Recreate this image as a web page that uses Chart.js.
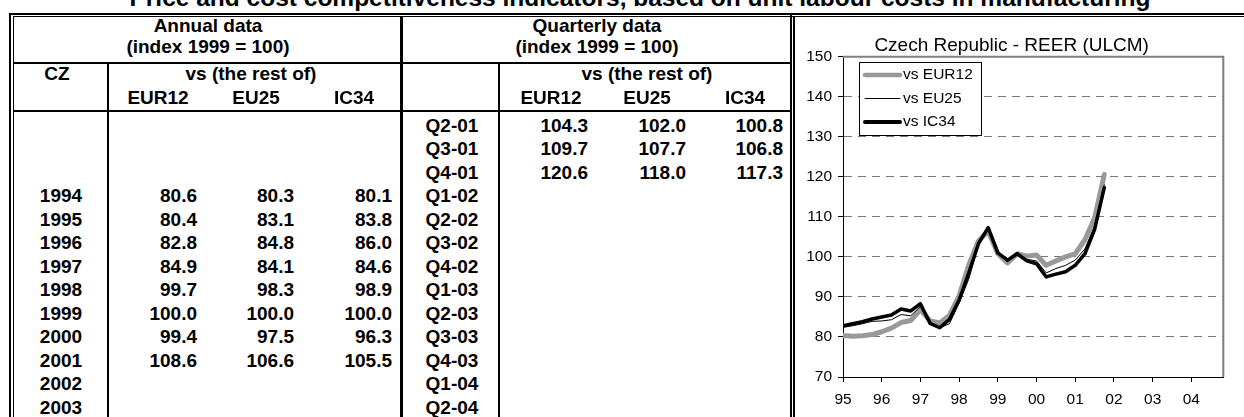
<!DOCTYPE html>
<html>
<head>
<meta charset="utf-8">
<script src="https://cdn.jsdelivr.net/npm/chart.js@4.4.0/dist/chart.umd.min.js"></script>
<style>
  html, body { margin: 0; padding: 0; background: #fff; }
  #page { position: relative; width: 1244px; height: 417px; overflow: hidden; font-family: "Liberation Sans", Arial, sans-serif; }
  .t { position: absolute; font-weight: bold; font-size: 19px; line-height: 23.5px; white-space: nowrap; color: #000; }
  .ln { position: absolute; background: #000; }
  #topTitle { position: absolute; left: 0; top: -15px; width: 1280px; text-align: center; font-weight: bold; font-size: 24.5px; line-height: 25px; white-space: nowrap; }
  #chartBox { position: absolute; left: 795px; top: 17px; width: 449px; height: 400px; }
</style>
</head>
<body>
<div id="page">
  <div id="topTitle">Price and cost competitiveness indicators, based on unit labour costs in manufacturing</div>
  <div id="chartBox"><canvas id="chart" width="449" height="400"></canvas></div>
</div>
<script>
// table data
const annualYears = ['1994', '1995', '1996', '1997', '1998', '1999', '2000', '2001', '2002', '2003'];
const annualEur12 = [80.6, 80.4, 82.8, 84.9, 99.7, 100.0, 99.4, 108.6];
const annualEu25 = [80.3, 83.1, 84.8, 84.1, 98.3, 100.0, 97.5, 106.6];
const annualIc34 = [80.1, 83.8, 86.0, 84.6, 98.9, 100.0, 96.3, 105.5];

const tableQuarters = ['Q2-01', 'Q3-01', 'Q4-01', 'Q1-02', 'Q2-02', 'Q3-02', 'Q4-02',
  'Q1-03', 'Q2-03', 'Q3-03', 'Q4-03', 'Q1-04', 'Q2-04'];
const tableQEur12 = [104.3, 109.7, 120.6];
const tableQEu25 = [102.0, 107.7, 118.0];
const tableQIc34 = [100.8, 106.8, 117.3];

// chart data, quarterly Q1-95 .. Q4-01
const quarters = ['Q1-95', 'Q2-95', 'Q3-95', 'Q4-95', 'Q1-96', 'Q2-96', 'Q3-96', 'Q4-96',
  'Q1-97', 'Q2-97', 'Q3-97', 'Q4-97', 'Q1-98', 'Q2-98', 'Q3-98', 'Q4-98',
  'Q1-99', 'Q2-99', 'Q3-99', 'Q4-99', 'Q1-00', 'Q2-00', 'Q3-00', 'Q4-00',
  'Q1-01', 'Q2-01', 'Q3-01', 'Q4-01'];
const eur12 = [80.4, 80.2, 80.3, 80.6, 81.3, 82.2, 83.6, 84.1, 86.8, 84.0, 83.5, 85.4,
  90.3, 98.0, 104.0, 106.5, 100.8, 98.5, 100.8, 100.2, 100.5, 97.9, 99.0, 100.0,
  100.8, 104.3, 109.7, 120.6];
const eu25 = [82.4, 82.8, 83.3, 83.9, 84.0, 84.3, 85.6, 85.3, 87.6, 83.2, 82.3, 83.3,
  88.5, 94.5, 103.0, 107.2, 101.0, 98.8, 100.8, 99.4, 99.0, 96.0, 97.1, 97.9,
  99.2, 102.0, 107.7, 118.0];
const ic34 = [82.8, 83.3, 83.8, 84.5, 85.0, 85.5, 87.0, 86.5, 88.3, 83.4, 82.3, 84.4,
  89.2, 96.0, 103.3, 107.3, 101.0, 99.2, 100.8, 99.0, 98.3, 95.0, 95.7, 96.3,
  97.9, 100.8, 106.8, 117.3];
const yearTicks = ['95', '96', '97', '98', '99', '00', '01', '02', '03', '04'];

const page = document.getElementById('page');

function addLine(x, y, w, h) {
    const d = document.createElement('div');
    d.className = 'ln';
    d.style.left = x + 'px';
    d.style.top = y + 'px';
    d.style.width = w + 'px';
    d.style.height = h + 'px';
    page.appendChild(d);
}

// x is the centre (align 'center') or the right edge (align 'right'); y is the baseline
function addText(str, x, baseline, align) {
    const d = document.createElement('div');
    d.className = 't';
    d.textContent = str;
    d.style.top = (baseline - 18.35) + 'px';
    if (align === 'right') {
        d.style.right = (1244 - x) + 'px';
    } else {
        d.style.left = (x - 120) + 'px';
        d.style.width = '240px';
        d.style.textAlign = 'center';
    }
    page.appendChild(d);
}

// --- table frame ---
addLine(9, 13, 1235, 2);
addLine(13, 16, 1231, 1);
addLine(9, 13, 2, 404);
addLine(13, 16, 1, 401);
addLine(107, 62, 2, 355);
addLine(400, 16, 3, 401);
addLine(498, 62, 2, 355);
addLine(790, 13, 2, 404);
addLine(793, 16, 2, 401);
addLine(13, 62, 779, 2);
addLine(13, 110, 779, 2);

// --- headers ---
addText('Annual data', 208, 32.7);
addText('(index 1999 = 100)', 208, 53.3);
addText('Quarterly data', 597, 32.7);
addText('(index 1999 = 100)', 597, 53.3);
addText('CZ', 57, 80);
addText('vs (the rest of)', 251, 80);
addText('vs (the rest of)', 647, 80);
addText('EUR12', 158, 104.5);
addText('EU25', 256, 104.5);
addText('IC34', 354, 104.5);
addText('EUR12', 551, 104.5);
addText('EU25', 647, 104.5);
addText('IC34', 745, 104.5);

// --- rows ---
const rowBase = k => 132 + 23.5 * k;
annualYears.forEach((yr, i) => {
    const b = rowBase(i + 3);
    addText(yr, 61, b);
    if (i < annualEur12.length) {
        addText(annualEur12[i].toFixed(1), 197, b, 'right');
        addText(annualEu25[i].toFixed(1), 294, b, 'right');
        addText(annualIc34[i].toFixed(1), 392, b, 'right');
    }
});
tableQuarters.forEach((q, i) => {
    const b = rowBase(i);
    addText(q, 452, b);
    if (i < tableQEur12.length) {
        addText(tableQEur12[i].toFixed(1), 588, b, 'right');
        addText(tableQEu25[i].toFixed(1), 686, b, 'right');
        addText(tableQIc34[i].toFixed(1), 783, b, 'right');
    }
});

// --- chart ---
const fontFamily = '"Liberation Sans", Arial, sans-serif';
const toPoints = arr => arr.map((v, i) => ({ x: i, y: v }));

// grey frame on the top and right of the plot area
const plotFrame = {
    id: 'plotFrame',
    beforeDatasetsDraw(chart) {
        const { ctx, chartArea } = chart;
        ctx.save();
        ctx.strokeStyle = '#808080';
        ctx.lineWidth = 2;
        ctx.beginPath();
        ctx.moveTo(chartArea.left, chartArea.top);
        ctx.lineTo(chartArea.right, chartArea.top);
        ctx.lineTo(chartArea.right, chartArea.bottom);
        ctx.stroke();
        ctx.restore();
    }
};

// boxed legend inside the plot area, top left
const legendBox = {
    id: 'legendBox',
    afterDatasetsDraw(chart) {
        const { ctx, chartArea } = chart;
        const left = Math.round(chartArea.left + 16);
        const top = Math.round(chartArea.top + 5);
        ctx.save();
        ctx.fillStyle = '#fff';
        ctx.fillRect(left, top, 122, 73);
        ctx.strokeStyle = '#000';
        ctx.lineWidth = 1;
        ctx.strokeRect(left + 0.5, top + 0.5, 122, 73);
        chart.data.datasets.forEach((ds, i) => {
            const y = top + 13 + i * 23.5;
            ctx.beginPath();
            ctx.lineCap = 'round';
            ctx.strokeStyle = ds.borderColor;
            ctx.lineWidth = ds.legendWidth;
            ctx.moveTo(left + 6, y);
            ctx.lineTo(left + 41, y);
            ctx.stroke();
            ctx.fillStyle = '#000';
            ctx.font = '15.5px ' + fontFamily;
            ctx.textBaseline = 'middle';
            ctx.fillText(ds.label, left + 44, y);
        });
        ctx.restore();
    }
};

new Chart(document.getElementById('chart'), {
    type: 'line',
    data: {
        labels: quarters,
        datasets: [
            { label: 'vs EUR12', data: toPoints(eur12), borderColor: '#999999', borderWidth: 5, legendWidth: 4.5, order: 3 },
            { label: 'vs EU25', data: toPoints(eu25), borderColor: '#000000', borderWidth: 1, legendWidth: 1, order: 1 },
            { label: 'vs IC34', data: toPoints(ic34), borderColor: '#000000', borderWidth: 3.5, legendWidth: 4, order: 2 }
        ]
    },
    options: {
        responsive: false,
        animation: false,
        elements: {
            point: { radius: 0 },
            line: { tension: 0, borderJoinStyle: 'round', borderCapStyle: 'round' }
        },
        layout: { padding: { left: 5, right: 20.7, top: 0, bottom: 0 } },
        plugins: {
            legend: { display: false },
            tooltip: { enabled: false },
            title: {
                display: true,
                text: 'Czech Republic - REER (ULCM)',
                color: '#000',
                font: { family: fontFamily, size: 19, weight: 'normal' },
                padding: { top: 17, bottom: 0 }
            }
        },
        scales: {
            x: {
                type: 'linear',
                min: 0,
                max: 39.3,
                afterFit: s => { s.height = 40; },
                ticks: {
                    stepSize: 4,
                    includeBounds: false,
                    autoSkip: false,
                    maxRotation: 0,
                    color: '#000',
                    padding: 8,
                    font: { family: fontFamily, size: 15.5 },
                    callback: v => yearTicks[v / 4]
                },
                grid: { drawOnChartArea: false, tickLength: 5, tickColor: '#000' },
                border: { color: '#000', width: 1 }
            },
            y: {
                min: 70,
                max: 150,
                afterFit: s => { s.width = 43; },
                ticks: {
                    stepSize: 10,
                    color: '#000',
                    padding: 6,
                    font: { family: fontFamily, size: 15.5 }
                },
                grid: { color: '#777777', tickLength: 5, tickColor: '#000', tickBorderDash: [] },
                border: { color: '#000', width: 1, dash: [8, 6] }
            }
        }
    },
    plugins: [plotFrame, legendBox]
});
</script>
</body>
</html>
